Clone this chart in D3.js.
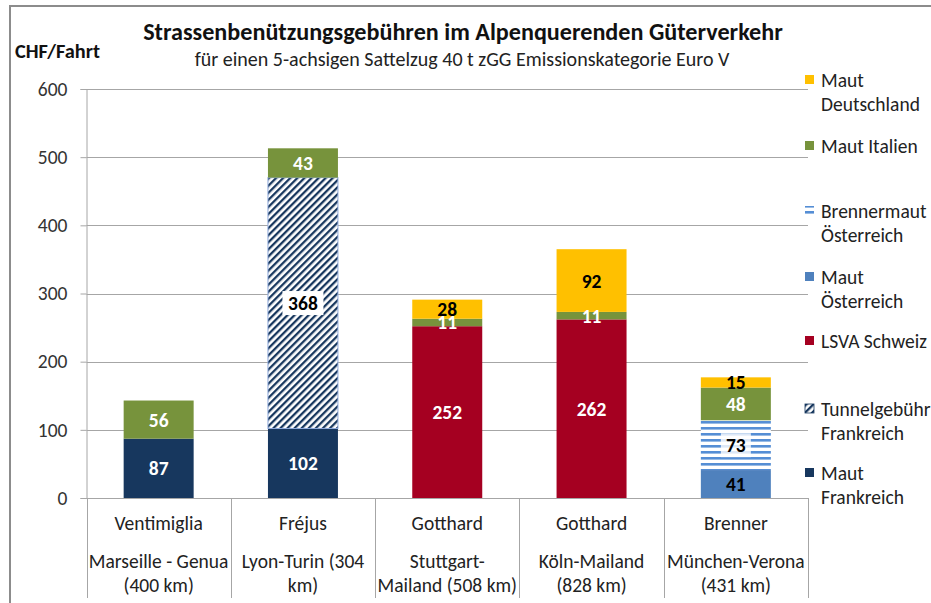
<!DOCTYPE html>
<html>
<head>
<meta charset="utf-8">
<script src="https://cdn.jsdelivr.net/npm/d3@7"></script>
<style>
  html, body { margin: 0; padding: 0; background: #fff; }
  svg { display: block; font-family: Carlito, Lato, "Open Sans", sans-serif; }
</style>
</head>
<body>
<svg id="chart" width="931" height="603"></svg>
<script>
// ---------- DATA ----------
const categories = ["Ventimiglia", "Fréjus", "Gotthard", "Gotthard", "Brenner"];
const routes = [
  ["Marseille - Genua", "(400 km)"],
  ["Lyon-Turin (304", "km)"],
  ["Stuttgart-", "Mailand (508 km)"],
  ["Köln-Mailand", "(828 km)"],
  ["München-Verona", "(431 km)"]
];
const seriesNames = ["Maut Frankreich", "Tunnelgebühr Frankreich", "LSVA Schweiz",
  "Maut Österreich", "Brennermaut Österreich", "Maut Italien", "Maut Deutschland"];
const mautFrankreich    = [87, 102, 0, 0, 0];
const tunnelFrankreich  = [0, 368, 0, 0, 0];
const lsvaSchweiz       = [0, 0, 252, 262, 0];
const mautOesterreich   = [0, 0, 0, 0, 41];
const brennerOesterreich= [0, 0, 0, 0, 73];
const mautItalien       = [56, 43, 11, 11, 48];
const mautDeutschland   = [0, 0, 28, 92, 15];
const legendLabels = [
  ["Maut", "Frankreich"], ["Tunnelgebühr", "Frankreich"], ["LSVA Schweiz"],
  ["Maut", "Österreich"], ["Brennermaut", "Österreich"], ["Maut Italien"],
  ["Maut", "Deutschland"]
];
const yTicks = [0, 100, 200, 300, 400, 500, 600];
const titleText = "Strassenbenützungsgebühren im Alpenquerenden Güterverkehr";
const subtitleText = "für einen 5-achsigen Sattelzug 40 t zGG Emissionskategorie Euro V";
const unitText = "CHF/Fahrt";

// ---------- STYLE ----------
const seriesValues = [mautFrankreich, tunnelFrankreich, lsvaSchweiz, mautOesterreich,
  brennerOesterreich, mautItalien, mautDeutschland];
const fills = ["#17375E", "url(#diag)", "#A50021", "#4F81BD", "url(#hstripe)", "#77933C", "#FFC000"];
const labelColors = ["#fff", "#000", "#fff", "#000", "#000", "#fff", "#000"];
const labelBg = [0, 1, 0, 0, 0.8, 0, 0];
const strokes = ["none", "#8EA9DB", "none", "none", "none", "none", "none"];
const FONT = 19.5;

const svg = d3.select("#chart");
const defs = svg.append("defs");
const diag = defs.append("pattern").attr("id", "diag").attr("patternUnits", "userSpaceOnUse")
  .attr("width", 5).attr("height", 5).attr("patternTransform", "rotate(45)");
diag.append("rect").attr("width", 5).attr("height", 5).attr("fill", "#fff");
diag.append("rect").attr("width", 2.3).attr("height", 5).attr("fill", "#17375E");
const hs = defs.append("pattern").attr("id", "hstripe").attr("patternUnits", "userSpaceOnUse")
  .attr("width", 6).attr("height", 6);
hs.append("rect").attr("width", 6).attr("height", 6).attr("fill", "#fff");
hs.append("rect").attr("width", 6).attr("height", 2.6).attr("y", 1).attr("fill", "#558ED5");

// frame
svg.append("path").attr("d", "M10,603 V6 H931").attr("fill", "none")
  .attr("stroke", "#8C8C8C").attr("stroke-width", 2);

// ---------- SCALES ----------
const x0 = 86.5, x1 = 808, yBase = 498, yTop = 89;
const x = d3.scaleBand().domain(d3.range(categories.length)).range([x0, x1])
  .paddingInner(0.515).paddingOuter(0.2575);
const y = d3.scaleLinear().domain([0, 600]).range([yBase, yTop]);
const gridColor = "#A6A6A6";

// gridlines
svg.append("g").selectAll("line").data(yTicks).join("line")
  .attr("x1", x0).attr("x2", x1)
  .attr("y1", d => Math.round(y(d)) + 0.5).attr("y2", d => Math.round(y(d)) + 0.5)
  .attr("stroke", gridColor).attr("stroke-width", 1);

// y axis
const yAxis = svg.append("g").attr("transform", `translate(${x0},0)`)
  .call(d3.axisLeft(y).tickValues(yTicks).tickSize(6).tickPadding(13));
yAxis.select(".domain").attr("stroke", gridColor);
yAxis.selectAll(".tick line").attr("stroke", gridColor);
yAxis.selectAll(".tick text").attr("font-size", FONT).attr("fill", "#333")
  .attr("font-family", "Carlito, Lato, 'Open Sans', sans-serif");

// x category separators
const seps = d3.range(categories.length + 1).map(i => x0 + i * x.step());
svg.append("g").selectAll("line").data(seps).join("line")
  .attr("x1", d => Math.round(d) + 0.5).attr("x2", d => Math.round(d) + 0.5)
  .attr("y1", yBase).attr("y2", 598).attr("stroke", gridColor);

// ---------- BARS ----------
const table = categories.map((c, i) => {
  const o = { idx: i };
  seriesNames.forEach((s, k) => o[s] = seriesValues[k][i]);
  return o;
});
const stacked = d3.stack().keys(seriesNames)(table);
const barsG = svg.append("g");
const labelsG = svg.append("g");
stacked.forEach((layer, k) => {
  const segs = layer.filter(d => d[1] - d[0] > 0);
  barsG.selectAll(null).data(segs).join("rect")
    .attr("x", d => x(d.data.idx)).attr("width", x.bandwidth())
    .attr("y", d => y(d[1])).attr("height", d => y(d[0]) - y(d[1]))
    .attr("fill", fills[k]).attr("stroke", strokes[k]).attr("stroke-width", 1);
  segs.forEach(d => {
    const cx = x(d.data.idx) + x.bandwidth() / 2;
    const cy = (y(d[0]) + y(d[1])) / 2;
    const v = d[1] - d[0];
    if (labelBg[k] > 0) {
      const w = String(v).length * 11 + 8;
      labelsG.append("rect").attr("x", cx - w / 2).attr("y", cy - 12)
        .attr("width", w).attr("height", 24).attr("fill", "#fff").attr("fill-opacity", labelBg[k]);
    }
    labelsG.append("text").attr("x", cx).attr("y", cy).attr("dy", "0.36em")
      .attr("text-anchor", "middle").attr("font-size", 19.5).attr("font-weight", "bold")
      .attr("fill", labelColors[k]).text(v);
  });
});

// ---------- X LABELS ----------
const xl = svg.append("g").attr("font-size", FONT).attr("fill", "#222").attr("text-anchor", "middle");
categories.forEach((c, i) => {
  const cx = x(i) + x.bandwidth() / 2;
  xl.append("text").attr("x", cx).attr("y", 530).text(c);
  routes[i].forEach((r, j) => xl.append("text").attr("x", cx).attr("y", 568 + j * 24).text(r));
});

// ---------- TITLES ----------
function fitText(sel, target) {
  const w = sel.node().getComputedTextLength();
  const fs = parseFloat(sel.attr("font-size"));
  sel.attr("font-size", fs * target / w);
}
const t = svg.append("text").attr("x", 463).attr("y", 40).attr("text-anchor", "middle")
  .attr("font-size", 20).attr("font-weight", "bold").attr("fill", "#111").text(titleText);
fitText(t, 640);
const st = svg.append("text").attr("x", 462).attr("y", 66).attr("text-anchor", "middle")
  .attr("font-size", 16).attr("fill", "#222").text(subtitleText);
fitText(st, 535);
const ut = svg.append("text").attr("x", 15).attr("y", 58)
  .attr("font-size", 16).attr("font-weight", "bold").attr("fill", "#111").text(unitText);
fitText(ut, 85);

// ---------- LEGEND ----------
const legendY = [473, 409, 341, 277, 211, 146, 80];
const lg = svg.append("g").attr("font-size", FONT).attr("fill", "#222");
seriesNames.forEach((s, k) => {
  const cy = legendY[k];
  lg.append("rect").attr("x", 805).attr("y", cy - 5).attr("width", 9).attr("height", 9)
    .attr("fill", fills[k]).attr("stroke", strokes[k] === "none" ? "none" : "#17375E")
    .attr("stroke-width", 0.8);
  legendLabels[k].forEach((line, j) => {
    lg.append("text").attr("x", 821).attr("y", cy + j * 24).attr("dy", "0.36em").text(line);
  });
});
</script>
</body>
</html>
